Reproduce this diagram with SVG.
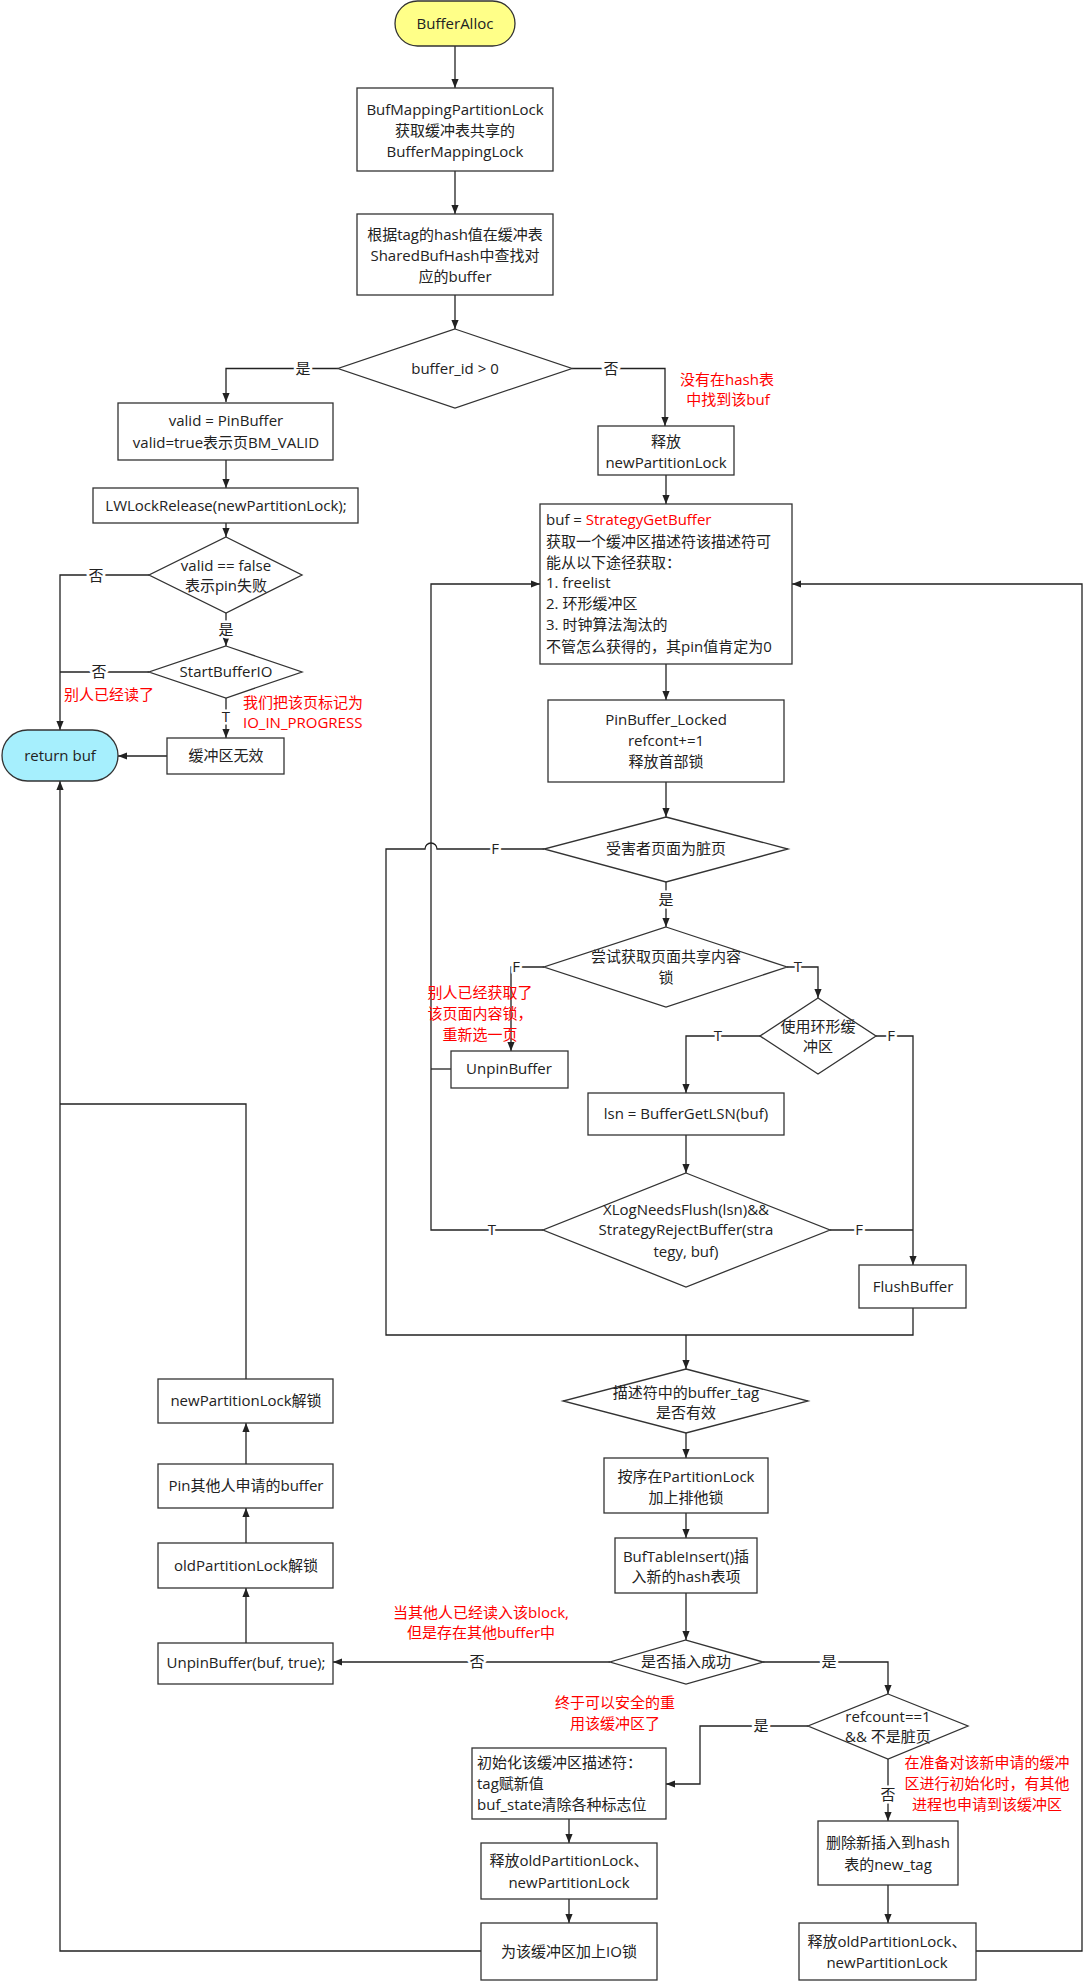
<svg xmlns="http://www.w3.org/2000/svg" width="1087" height="1981" viewBox="0 0 1087 1981">
<style>
.bx{fill:#fff;stroke:#333;stroke-width:1.3}
.dm{fill:#fff;stroke:#333;stroke-width:1.3}
text{font-family:"Open Sans","Noto Sans CJK SC",sans-serif;font-size:15px;fill:#222}
.c{text-anchor:middle}
.r{fill:#ff0000}
.lb{text-anchor:middle;stroke:#fff;stroke-width:5px;paint-order:stroke;stroke-linejoin:round}
.cn path{fill:none;stroke:#222;stroke-width:1.3}
.ar{marker-end:url(#ah)}
</style>
<defs>
<marker id="ah" viewBox="0 0 10 10" refX="10" refY="5" markerWidth="9" markerHeight="9" markerUnits="userSpaceOnUse" orient="auto">
<path d="M0,1 L10,5 L0,9 z" fill="#222"/>
</marker>
</defs>
<rect width="1087" height="1981" fill="#fff"/>

<g class="cn" id="connectors">
<path class="ar" d="M455,46 V88"/>
<path class="ar" d="M455,171 V214"/>
<path class="ar" d="M455,295 V329"/>
<path class="ar" d="M338,368.5 H226 V402"/>
<path class="ar" d="M572,368.5 H665 V426"/>
<path class="ar" d="M666,475 V504"/>
<path class="ar" d="M226,460 V488"/>
<path class="ar" d="M226,523 V537"/>
<path class="ar" d="M149,575 H60 V730"/>
<path class="ar" d="M226,613 V646"/>
<path d="M149,672 H60"/>
<path class="ar" d="M226,698 V738"/>
<path class="ar" d="M167,756 H118"/>
<path class="ar" d="M666,664 V700"/>
<path class="ar" d="M666,782 V817"/>
<path d="M544,849 H437 A6,6 0 0 0 425,849 H386 V1335 H913 V1308"/>
<path class="ar" d="M686,1335 V1369"/>
<path class="ar" d="M666,882 V927"/>
<path class="ar" d="M544,967 H511 V1051"/>
<path class="ar" d="M787,967 H818 V998"/>
<path class="ar" d="M760,1036 H686 V1093"/>
<path class="ar" d="M876,1036 H913 V1265"/>
<path d="M451,1069 H431"/>
<path class="ar" d="M686,1135 V1173"/>
<path class="ar" d="M543,1230 H431 V584 H540"/>
<path d="M830,1230 H913"/>
<path class="ar" d="M686,1433 V1458"/>
<path class="ar" d="M686,1513 V1538"/>
<path class="ar" d="M686,1593 V1640"/>
<path class="ar" d="M610,1662 H333"/>
<path class="ar" d="M763,1662 H888 V1694"/>
<path class="ar" d="M808,1726 H700 V1784 H666"/>
<path class="ar" d="M888,1759 V1821"/>
<path class="ar" d="M888,1885 V1923"/>
<path class="ar" d="M976,1951 H1082 V584 H792"/>
<path class="ar" d="M569,1819 V1843"/>
<path class="ar" d="M569,1899 V1923"/>
<path class="ar" d="M481,1951 H60 V781"/>
<path class="ar" d="M246,1643 V1588"/>
<path class="ar" d="M246,1543 V1508"/>
<path class="ar" d="M246,1464 V1423"/>
<path d="M246,1379 V1104 H60"/>
<text class="lb" x="303" y="374">是</text>
<text class="lb" x="611" y="374">否</text>
<text class="lb" x="96" y="581">否</text>
<text class="lb" x="226" y="635">是</text>
<text class="lb" x="99" y="677">否</text>
<text class="lb" x="226" y="722">T</text>
<text class="lb" x="495" y="854">F</text>
<text class="lb" x="666" y="905">是</text>
<text class="lb" x="516" y="972">F</text>
<text class="lb" x="798" y="972">T</text>
<text class="lb" x="718" y="1041">T</text>
<text class="lb" x="891" y="1041">F</text>
<text class="lb" x="492" y="1235">T</text>
<text class="lb" x="859" y="1235">F</text>
<text class="lb" x="477" y="1667">否</text>
<text class="lb" x="829" y="1667">是</text>
<text class="lb" x="761" y="1731">是</text>
<text class="lb" x="888" y="1800">否</text>
</g>

<g id="n-start"><rect x="395" y="1" width="120" height="45" rx="22.5" fill="#ffff88" stroke="#333" stroke-width="1.3"/><text class="c" x="455" y="29">BufferAlloc</text></g>
<g id="n-lock"><rect class="bx" x="357" y="88" width="196" height="83"/><text class="c" x="455" y="115">BufMappingPartitionLock</text><text class="c" x="455" y="136">获取缓冲表共享的</text><text class="c" x="455" y="157">BufferMappingLock</text></g>
<g id="n-lookup"><rect class="bx" x="357" y="214" width="196" height="81"/><text class="c" x="455" y="240">根据tag的hash值在缓冲表</text><text class="c" x="455" y="261">SharedBufHash中查找对</text><text class="c" x="455" y="282">应的buffer</text></g>
<g id="n-bufid"><path class="dm" d="M455,329 L572,368.5 L455,408 L338,368.5 Z"/><text class="c" x="455" y="374">buffer_id &gt; 0</text></g>
<g id="n-note1"><text class="c r" x="727" y="385">没有在hash表</text><text class="c r" x="728" y="405">中找到该buf</text></g>
<g id="n-valid"><rect class="bx" x="118" y="403" width="215" height="57"/><text class="c" x="226" y="426">valid = PinBuffer</text><text class="c" x="226" y="448">valid=true表示页BM_VALID</text></g>
<g id="n-lwrel"><rect class="bx" x="93" y="488" width="265" height="35"/><text class="c" x="226" y="511">LWLockRelease(newPartitionLock);</text></g>
<g id="n-validf"><path class="dm" d="M226,537 L302,575 L226,613 L149,575 Z"/><text class="c" x="226" y="571">valid == false</text><text class="c" x="226" y="591">表示pin失败</text></g>
<g id="n-startio"><path class="dm" d="M226,646 L302,672 L226,698 L149,672 Z"/><text class="c" x="226" y="677">StartBufferIO</text></g>
<g id="n-note2"><text class="r" x="64" y="700">别人已经读了</text></g>
<g id="n-note3"><text class="r" x="243" y="708">我们把该页标记为</text><text class="r" x="243" y="728">IO_IN_PROGRESS</text></g>
<g id="n-invalid"><rect class="bx" x="167" y="738" width="117" height="36"/><text class="c" x="226" y="761">缓冲区无效</text></g>
<g id="n-return"><rect x="2" y="730" width="116" height="51" rx="25.5" fill="#a6effd" stroke="#333" stroke-width="1.3"/><text class="c" x="60" y="761">return buf</text></g>
<g id="n-relnew"><rect class="bx" x="598" y="426" width="136" height="49"/><text class="c" x="666" y="447">释放</text><text class="c" x="666" y="468">newPartitionLock</text></g>
<g id="n-strategy"><rect class="bx" x="540" y="504" width="252" height="160"/>
<text x="546" y="525">buf = <tspan class="r">StrategyGetBuffer</tspan></text>
<text x="546" y="547">获取一个缓冲区描述符该描述符可</text>
<text x="546" y="568">能从以下途径获取：</text>
<text x="546" y="588">1. freelist</text>
<text x="546" y="609">2. 环形缓冲区</text>
<text x="546" y="630">3. 时钟算法淘汰的</text>
<text x="546" y="652">不管怎么获得的，其pin值肯定为0</text></g>
<g id="n-pinlocked"><rect class="bx" x="548" y="700" width="236" height="82"/><text class="c" x="666" y="725">PinBuffer_Locked</text><text class="c" x="666" y="746">refcont+=1</text><text class="c" x="666" y="767">释放首部锁</text></g>
<g id="n-dirty"><path class="dm" d="M666,817 L788,849 L666,882 L544,849 Z"/><text class="c" x="666" y="854">受害者页面为脏页</text></g>
<g id="n-trylock"><path class="dm" d="M666,927 L787,967 L666,1007 L544,967 Z"/><text class="c" x="666" y="962">尝试获取页面共享内容</text><text class="c" x="666" y="983">锁</text></g>
<g id="n-note4"><text class="c r" x="480" y="998">别人已经获取了</text><text class="c r" x="480" y="1019">该页面内容锁，</text><text class="c r" x="480" y="1040">重新选一页</text></g>
<g id="n-unpin"><rect class="bx" x="451" y="1051" width="117" height="37"/><text class="c" x="509" y="1074">UnpinBuffer</text></g>
<g id="n-ring"><path class="dm" d="M818,998 L876,1036 L818,1074 L760,1036 Z"/><text class="c" x="818" y="1032">使用环形缓</text><text class="c" x="818" y="1052">冲区</text></g>
<g id="n-lsn"><rect class="bx" x="588" y="1093" width="196" height="42"/><text class="c" x="686" y="1119">lsn = BufferGetLSN(buf)</text></g>
<g id="n-xlog"><path class="dm" d="M686,1173 L830,1230 L686,1287 L543,1230 Z"/><text class="c" x="686" y="1215">XLogNeedsFlush(lsn)&amp;&amp;</text><text class="c" x="686" y="1235">StrategyRejectBuffer(stra</text><text class="c" x="686" y="1257">tegy, buf)</text></g>
<g id="n-flush"><rect class="bx" x="859" y="1265" width="107" height="43"/><text class="c" x="913" y="1292">FlushBuffer</text></g>
<g id="n-tagvalid"><path class="dm" d="M686,1369 L808,1401 L686,1433 L563,1401 Z"/><text class="c" x="686" y="1398">描述符中的buffer_tag</text><text class="c" x="686" y="1418">是否有效</text></g>
<g id="n-excl"><rect class="bx" x="604" y="1458" width="164" height="55"/><text class="c" x="686" y="1482">按序在PartitionLock</text><text class="c" x="686" y="1503">加上排他锁</text></g>
<g id="n-insert"><rect class="bx" x="615" y="1538" width="142" height="55"/><text class="c" x="686" y="1562">BufTableInsert()插</text><text class="c" x="686" y="1582">入新的hash表项</text></g>
<g id="n-inserted"><path class="dm" d="M686,1640 L763,1662 L686,1684 L610,1662 Z"/><text class="c" x="686" y="1667">是否插入成功</text></g>
<g id="n-note5"><text class="c r" x="481" y="1618">当其他人已经读入该block,</text><text class="c r" x="481" y="1638">但是存在其他buffer中</text></g>
<g id="n-unpin2"><rect class="bx" x="158" y="1643" width="175" height="41"/><text class="c" x="246" y="1668">UnpinBuffer(buf, true);</text></g>
<g id="n-oldunlock"><rect class="bx" x="158" y="1543" width="175" height="45"/><text class="c" x="246" y="1571">oldPartitionLock解锁</text></g>
<g id="n-pinother"><rect class="bx" x="158" y="1464" width="175" height="44"/><text class="c" x="246" y="1491">Pin其他人申请的buffer</text></g>
<g id="n-newunlock"><rect class="bx" x="158" y="1379" width="175" height="44"/><text class="c" x="246" y="1406">newPartitionLock解锁</text></g>
<g id="n-refcount"><path class="dm" d="M888,1694 L968,1726 L888,1759 L808,1726 Z"/><text class="c" x="888" y="1722">refcount==1</text><text class="c" x="888" y="1742">&amp;&amp; 不是脏页</text></g>
<g id="n-note6"><text class="c r" x="615" y="1708">终于可以安全的重</text><text class="c r" x="615" y="1729">用该缓冲区了</text></g>
<g id="n-note7"><text class="c r" x="987" y="1768">在准备对该新申请的缓冲</text><text class="c r" x="987" y="1789">区进行初始化时，有其他</text><text class="c r" x="987" y="1810">进程也申请到该缓冲区</text></g>
<g id="n-init"><rect class="bx" x="472" y="1748" width="194" height="71"/><text x="477" y="1768">初始化该缓冲区描述符：</text><text x="477" y="1789">tag赋新值</text><text x="477" y="1810">buf_state清除各种标志位</text></g>
<g id="n-rel1"><rect class="bx" x="481" y="1843" width="176" height="56"/><text class="c" x="569" y="1866">释放oldPartitionLock、</text><text class="c" x="569" y="1888">newPartitionLock</text></g>
<g id="n-iolock"><rect class="bx" x="481" y="1923" width="176" height="57"/><text class="c" x="569" y="1957">为该缓冲区加上IO锁</text></g>
<g id="n-delete"><rect class="bx" x="818" y="1821" width="140" height="64"/><text class="c" x="888" y="1848">删除新插入到hash</text><text class="c" x="888" y="1870">表的new_tag</text></g>
<g id="n-rel2"><rect class="bx" x="799" y="1923" width="177" height="57"/><text class="c" x="887" y="1947">释放oldPartitionLock、</text><text class="c" x="887" y="1968">newPartitionLock</text></g>
</svg>
